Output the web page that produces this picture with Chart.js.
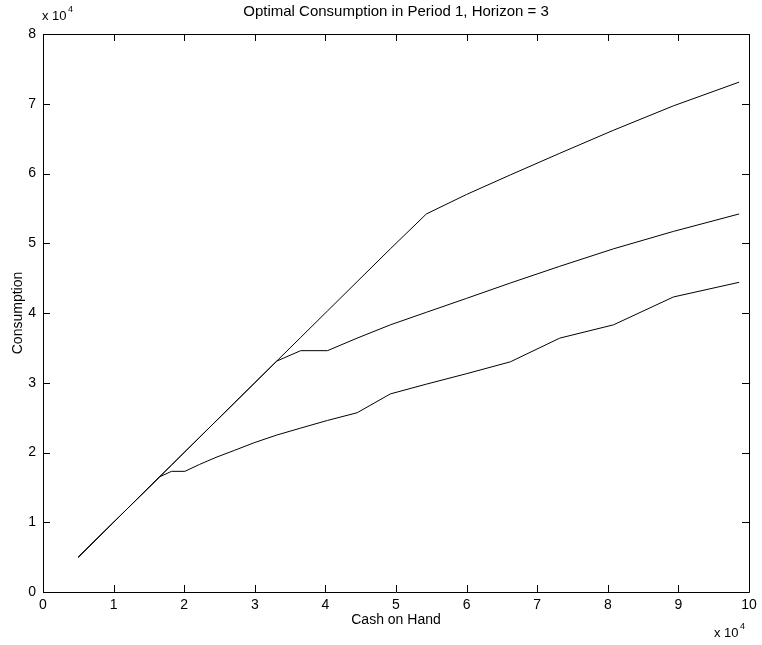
<!DOCTYPE html>
<html>
<head>
<meta charset="utf-8">
<title>Optimal Consumption</title>
<script src="https://cdn.jsdelivr.net/npm/chart.js@4.4.1/dist/chart.umd.min.js"></script>
<style>
    html, body { margin: 0; padding: 0; background: #fff; }
    canvas { display: block; }
</style>
</head>
<body>
<canvas id="lineChart" width="762" height="645"></canvas>
<script>
// cash on hand grid, in units of 10^4
const cashOnHand = [0.50, 1.65, 1.82, 2.01, 2.22, 2.45, 2.71, 2.99, 3.31, 3.65, 4.03, 4.45, 4.92, 5.43, 6.00, 6.62, 7.32, 8.08, 8.93, 9.86];

// optimal period-1 consumption for the three cases (10^4)
const consumptionHigh = [0.50, 1.65, 1.82, 2.01, 2.22, 2.45, 2.71, 2.99, 3.31, 3.65, 4.03, 4.45, 4.92, 5.42, 5.70, 5.98, 6.29, 6.62, 6.97, 7.31];
const consumptionMid = [0.50, 1.65, 1.82, 2.01, 2.22, 2.45, 2.71, 2.99, 3.31, 3.46, 3.46, 3.64, 3.83, 4.01, 4.21, 4.43, 4.67, 4.92, 5.17, 5.42];
const consumptionLow = [0.50, 1.65, 1.73, 1.73, 1.83, 1.93, 2.03, 2.14, 2.25, 2.35, 2.46, 2.57, 2.84, 2.98, 3.13, 3.30, 3.64, 3.83, 4.23, 4.44];

const xTicks = [0, 1, 2, 3, 4, 5, 6, 7, 8, 9, 10];
const yTicks = [0, 1, 2, 3, 4, 5, 6, 7, 8];

const FONT = "'Liberation Sans', Arial, Helvetica, sans-serif";

function toPoints(ys) {
    return cashOnHand.map((c, i) => ({ x: c, y: ys[i] }));
}

// box, inward ticks and the text around the axes (matlab style)
const framePlugin = {
    id: 'frame',
    afterDraw(chart) {
        const ctx = chart.ctx;
        const { left, right, top, bottom } = chart.chartArea;
        const xs = chart.scales.x;
        const ys = chart.scales.y;
        const tick = 7;

        ctx.save();
        ctx.strokeStyle = '#000';
        ctx.lineWidth = 1;
        ctx.beginPath();
        ctx.rect(Math.round(left) + 0.5, Math.round(top) + 0.5, Math.round(right - left), Math.round(bottom - top));
        ctx.stroke();

        ctx.beginPath();
        xTicks.forEach(v => {
            const px = Math.round(xs.getPixelForValue(v)) + 0.5;
            ctx.moveTo(px, bottom);
            ctx.lineTo(px, bottom - tick);
            ctx.moveTo(px, top);
            ctx.lineTo(px, top + tick);
        });
        yTicks.forEach(v => {
            const py = Math.round(ys.getPixelForValue(v)) + 0.5;
            ctx.moveTo(left, py);
            ctx.lineTo(left + tick, py);
            ctx.moveTo(right, py);
            ctx.lineTo(right - tick, py);
        });
        ctx.stroke();

        ctx.fillStyle = '#000';
        ctx.textAlign = 'center';
        ctx.textBaseline = 'middle';

        ctx.font = '15px ' + FONT;
        ctx.fillText('Optimal Consumption in Period 1, Horizon = 3', (left + right) / 2, 12);

        ctx.font = '14px ' + FONT;
        ctx.fillText('Cash on Hand', (left + right) / 2, 620);

        ctx.save();
        ctx.translate(18, (top + bottom) / 2);
        ctx.rotate(-Math.PI / 2);
        ctx.fillText('Consumption', 0, 0);
        ctx.restore();

        // scale factors
        ctx.textAlign = 'left';
        ctx.textBaseline = 'alphabetic';
        ctx.font = '13px ' + FONT;
        ctx.fillText('x 10', 42, 20);
        ctx.fillText('x 10', 714, 637);
        ctx.font = '9px ' + FONT;
        ctx.fillText('4', 68, 12);
        ctx.fillText('4', 740, 629);

        ctx.restore();
    }
};

const lineStyle = {
    borderColor: '#000',
    borderWidth: 1,
    pointRadius: 0,
    tension: 0,
    fill: false
};

const lineChart = new Chart(document.getElementById('lineChart').getContext('2d'), {
    type: 'line',
    data: {
        datasets: [
            { label: 'High', data: toPoints(consumptionHigh), ...lineStyle },
            { label: 'Mid', data: toPoints(consumptionMid), ...lineStyle },
            { label: 'Low', data: toPoints(consumptionLow), ...lineStyle }
        ]
    },
    options: {
        responsive: false,
        animation: false,
        devicePixelRatio: 1,
        layout: { padding: { top: 34, right: 13, left: 0, bottom: 0 } },
        plugins: {
            legend: { display: false },
            tooltip: { enabled: false },
            title: { display: false }
        },
        scales: {
            x: {
                type: 'linear',
                min: 0,
                max: 10,
                afterBuildTicks: s => { s.ticks = xTicks.map(v => ({ value: v })); },
                afterFit: s => { s.height = 53; },
                grid: { display: false, drawTicks: false },
                border: { display: false },
                ticks: { color: '#000', padding: 5, font: { family: FONT, size: 14 } }
            },
            y: {
                type: 'linear',
                min: 0,
                max: 8,
                afterBuildTicks: s => { s.ticks = yTicks.map(v => ({ value: v })); },
                afterFit: s => { s.width = 43; },
                grid: { display: false, drawTicks: false },
                border: { display: false },
                ticks: { color: '#000', padding: 7, font: { family: FONT, size: 14 } }
            }
        }
    },
    plugins: [framePlugin]
});
</script>
</body>
</html>
